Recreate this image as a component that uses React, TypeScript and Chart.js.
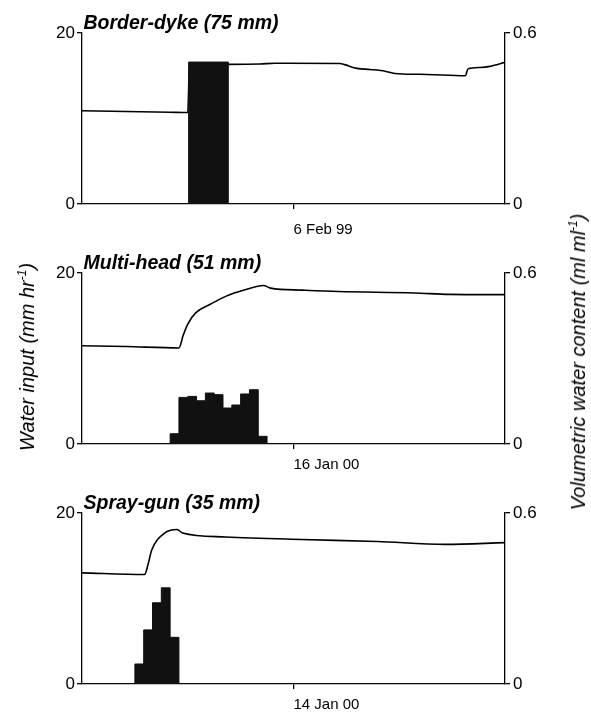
import React, { useEffect, useRef } from 'react';
import { Chart, registerables } from 'chart.js';

Chart.register(...registerables);

// ---------- data ----------
const PANEL_TITLES = ['Border-dyke (75 mm)', 'Multi-head (51 mm)', 'Spray-gun (35 mm)'];
const DATE_LABELS = ['6 Feb 99', '16 Jan 00', '14 Jan 00'];
const HOURS_MIN = 0;
const HOURS_MAX = 48;
const DATE_TICK_HOUR = 24;
const INPUT_TICKS = [0, 20];
const VWC_TICKS = [0, 0.6];

// water input (mm/hr): bar edges (hours) and rates
const BD_BAR_EDGES = [12.1, 16.6];
const BD_BAR_RATES = [16.6];
const MH_BAR_EDGES = [10, 11, 12, 13, 14, 15, 16, 17, 18, 19, 20, 21];
const MH_BAR_RATES = [1.2, 5.45, 5.57, 5.06, 5.96, 5.77, 4.21, 4.56, 5.85, 6.35, 0.9];
const SG_BAR_EDGES = [6, 7, 8, 9, 10, 11];
const SG_BAR_RATES = [2.34, 6.33, 9.5, 11.25, 5.46];

// volumetric water content (ml/ml)
const BD_VWC_HOURS = [0, 10, 12.0, 12.2, 16.7, 20.2, 21.9, 29.3, 29.8, 31.2, 32.7, 34.4, 35.5, 38.3, 41.7, 43.5, 43.8, 45.2, 46.3, 48];
const BD_VWC = [0.327, 0.322, 0.321, 0.49, 0.49, 0.491, 0.494, 0.493, 0.489, 0.476, 0.472, 0.466, 0.458, 0.455, 0.452, 0.45, 0.474, 0.479, 0.483, 0.497];
const MH_VWC_HOURS = [0, 5, 11, 11.5, 12.0, 12.9, 14.6, 16.3, 18.5, 20.6, 21.4, 25, 29.1, 37.7, 41.7, 48];
const MH_VWC = [0.345, 0.342, 0.337, 0.383, 0.421, 0.46, 0.491, 0.518, 0.541, 0.556, 0.547, 0.54, 0.535, 0.53, 0.525, 0.524];
const SG_VWC_HOURS = [0, 7.1, 7.5, 7.9, 9.3, 10.8, 11.4, 16.3, 24.9, 33.5, 41.2, 48];
const SG_VWC = [0.39, 0.384, 0.42, 0.469, 0.528, 0.542, 0.53, 0.516, 0.507, 0.5, 0.49, 0.496];

const PANELS = [
  { edges: BD_BAR_EDGES, rates: BD_BAR_RATES, hours: BD_VWC_HOURS, vwc: BD_VWC },
  { edges: MH_BAR_EDGES, rates: MH_BAR_RATES, hours: MH_VWC_HOURS, vwc: MH_VWC },
  { edges: SG_BAR_EDGES, rates: SG_BAR_RATES, hours: SG_VWC_HOURS, vwc: SG_VWC },
];

// ---------- layout ----------
const W = 591;
const H = 712;
const PANEL_STEP = 240;
const AREA_TOP = 33;
const AREA_BOTTOM = 204;
const LEFT_W = 82;
const RIGHT_W = 86;
const X_LABEL_PADDING = [12, 7, 7];
const FONT = '"Liberation Sans", Arial, Helvetica, sans-serif';

const panelTitlePlugin = {
  id: 'panelTitle',
  afterDraw(chart: any, _args: any, opts: any) {
    const { ctx, chartArea } = chart;
    ctx.save();
    ctx.font = `italic bold 19.5px ${FONT}`;
    ctx.fillStyle = '#000';
    ctx.textAlign = 'left';
    ctx.textBaseline = 'alphabetic';
    ctx.fillText(opts.text, chartArea.left + 1.5, chartArea.top - 4.5);
    ctx.restore();
  },
};

function stepData(edges: number[], rates: number[]) {
  const pts = [{ x: HOURS_MIN, y: 0 }];
  rates.forEach((r, i) => pts.push({ x: edges[i], y: r }));
  pts.push({ x: edges[edges.length - 1], y: 0 });
  pts.push({ x: HOURS_MAX, y: 0 });
  return pts;
}

function makeConfig(i: number, canvasH: number): any {
  const p = PANELS[i];
  const axisLine = { display: true, color: '#000', width: 1.3 };
  const grid = { drawOnChartArea: false, drawTicks: true, tickLength: 5, color: '#000', lineWidth: 1.3 };
  return {
    type: 'line',
    data: {
      datasets: [
        {
          data: stepData(p.edges, p.rates),
          yAxisID: 'y',
          stepped: 'before',
          fill: 'origin',
          backgroundColor: '#111',
          borderColor: '#111',
          borderWidth: 1,
          pointRadius: 0,
        },
        {
          data: p.hours.map((h, k) => ({ x: h, y: p.vwc[k] })),
          yAxisID: 'y1',
          borderColor: '#000',
          borderWidth: 1.6,
          pointRadius: 0,
          cubicInterpolationMode: 'monotone',
          fill: false,
        },
      ],
    },
    options: {
      animation: false,
      responsive: false,
      devicePixelRatio: 1,
      layout: { padding: { top: AREA_TOP, left: 0, right: 0, bottom: 0 } },
      plugins: {
        legend: { display: false },
        tooltip: { enabled: false },
        title: { display: false },
        panelTitle: { text: PANEL_TITLES[i] },
      },
      scales: {
        x: {
          type: 'linear',
          min: HOURS_MIN,
          max: HOURS_MAX,
          border: axisLine,
          grid,
          afterBuildTicks: (s: any) => { s.ticks = [{ value: DATE_TICK_HOUR }]; },
          afterFit: (s: any) => { s.height = canvasH - AREA_BOTTOM; },
          ticks: {
            align: 'start',
            padding: X_LABEL_PADDING[i],
            color: '#000',
            font: { family: FONT, size: 15 },
            maxRotation: 0,
            callback: () => DATE_LABELS[i],
          },
        },
        y: {
          type: 'linear',
          position: 'left',
          min: 0,
          max: 20,
          border: axisLine,
          grid,
          afterBuildTicks: (s: any) => { s.ticks = INPUT_TICKS.map((v) => ({ value: v })); },
          afterFit: (s: any) => { s.width = LEFT_W; },
          ticks: {
            padding: 2,
            color: '#000',
            font: { family: FONT, size: 17 },
            callback: (v: any) => String(v),
          },
        },
        y1: {
          type: 'linear',
          position: 'right',
          min: 0,
          max: 0.6,
          border: axisLine,
          grid,
          afterBuildTicks: (s: any) => { s.ticks = VWC_TICKS.map((v) => ({ value: v })); },
          afterFit: (s: any) => { s.width = RIGHT_W; },
          ticks: {
            padding: 3,
            color: '#000',
            font: { family: FONT, size: 17 },
            callback: (v: any) => (v === 0 ? '0' : String(v)),
          },
        },
      },
    },
    plugins: [panelTitlePlugin],
  };
}

export default function App() {
  const r0 = useRef<HTMLCanvasElement>(null);
  const r1 = useRef<HTMLCanvasElement>(null);
  const r2 = useRef<HTMLCanvasElement>(null);
  const heights = [PANEL_STEP, PANEL_STEP, H - 2 * PANEL_STEP];

  useEffect(() => {
    document.body.style.margin = '0';
    const refs = [r0, r1, r2];
    const charts = refs.map((r, i) => new Chart(r.current as HTMLCanvasElement, makeConfig(i, heights[i])));
    return () => charts.forEach((c) => c.destroy());
  }, []);

  const titleStyle: React.CSSProperties = {
    position: 'absolute',
    transform: 'translate(-50%, -50%) rotate(-90deg)',
    whiteSpace: 'nowrap',
    fontFamily: FONT,
    fontStyle: 'italic',
    fontSize: 20,
    color: '#000',
    lineHeight: 1,
  };
  const supStyle: React.CSSProperties = { fontSize: 12, verticalAlign: 'super', lineHeight: 0 };

  return (
    <div style={{ position: 'absolute', left: 0, top: 0, width: W, height: H, overflow: 'hidden', background: '#fff' }}>
      {[r0, r1, r2].map((r, i) => (
        <canvas
          key={i}
          ref={r}
          width={W}
          height={heights[i]}
          style={{ position: 'absolute', left: 0, top: i * PANEL_STEP, width: W, height: heights[i] }}
        />
      ))}
      <div style={{ ...titleStyle, left: 27, top: 357 }}>
        Water input (mm hr<span style={supStyle}>-1</span>)
      </div>
      <div style={{ ...titleStyle, left: 578, top: 362 }}>
        Volumetric water content (ml ml<span style={supStyle}>-1</span>)
      </div>
    </div>
  );
}
